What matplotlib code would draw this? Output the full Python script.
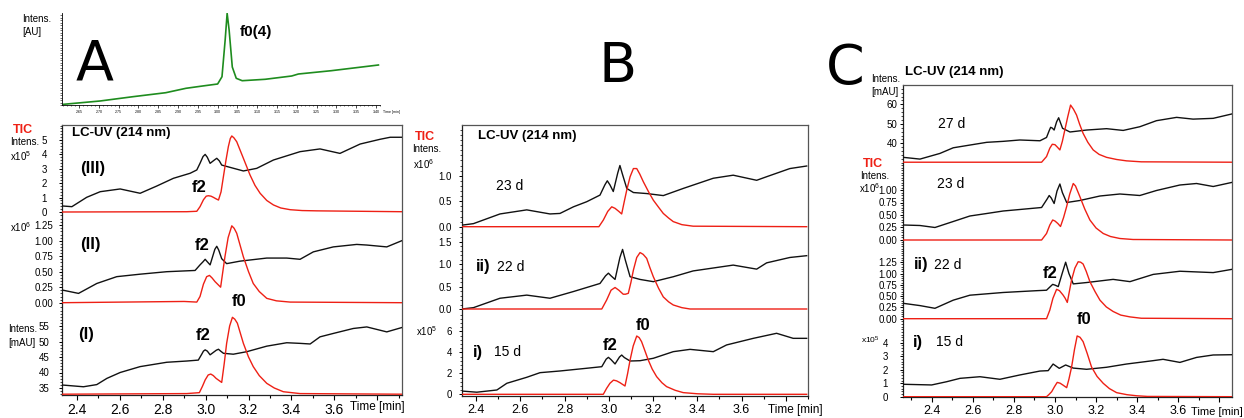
import matplotlib
matplotlib.use('Agg')
import matplotlib.pyplot as plt
from matplotlib.ticker import AutoMinorLocator, MultipleLocator

W, H = 1244, 418
BLACK = '#111111'
RED = '#ee2015'
GREEN = '#1e8c1e'

# shared time axis ticks
xticks = [2.4, 2.6, 2.8, 3.0, 3.2, 3.4, 3.6, 3.8]
xtick_labels = ['2.4', '2.6', '2.8', '3.0', '3.2', '3.4', '3.6', '']
inset_ticks = [2.65, 2.70, 2.75, 2.80, 2.85, 2.90, 2.95, 3.00, 3.05, 3.10, 3.15, 3.20, 3.25, 3.30, 3.35, 3.40]

# A, top inset (green, f0(4))
g_t = [2.611, 2.703, 2.786, 2.869, 2.92, 2.962, 3.0, 3.011, 3.019, 3.024, 3.029, 3.037, 3.047, 3.062, 3.12, 3.187, 3.204, 3.287, 3.406]
g_v = [0.7, 4, 8.3, 12.3, 16.7, 19, 21, 28.3, 65, 91.7, 75, 38, 26.7, 24.3, 25.7, 29, 31, 34.3, 40]

# A (III)  x10^5
a3_bt = [2.331, 2.377, 2.446, 2.509, 2.602, 2.695, 2.772, 2.85, 2.928, 2.959, 2.974, 2.988, 2.998, 3.008, 3.021, 3.04, 3.052, 3.064, 3.075, 3.114, 3.176, 3.238, 3.316, 3.44, 3.533, 3.626, 3.72, 3.813, 3.86, 3.914]
a3_b = [0.42, 0.37, 1.02, 1.41, 1.6, 1.3, 1.8, 2.34, 2.69, 2.92, 3.38, 3.85, 4.0, 3.8, 3.38, 3.6, 3.73, 3.55, 3.26, 3.1, 2.85, 3.03, 3.61, 4.19, 4.38, 4.07, 4.72, 5.05, 5.19, 5.19]
a3_rt = [2.331, 2.912, 2.959, 2.974, 2.99, 3.003, 3.013, 3.025, 3.036, 3.048, 3.06, 3.072, 3.083, 3.095, 3.106, 3.115, 3.122, 3.132, 3.145, 3.176, 3.207, 3.23, 3.254, 3.285, 3.316, 3.35, 3.394, 3.45, 3.518, 3.914]
a3_r = [0.0, 0.02, 0.05, 0.37, 0.85, 1.1, 1.13, 1.1, 1.02, 0.92, 0.83, 1.4, 2.46, 3.6, 4.54, 5.1, 5.28, 5.15, 4.88, 3.73, 2.57, 1.85, 1.3, 0.8, 0.49, 0.28, 0.16, 0.1, 0.08, 0.02]

# A (II)  x10^6
a2_bt = [2.331, 2.408, 2.493, 2.586, 2.695, 2.819, 2.951, 2.974, 2.988, 2.998, 3.008, 3.021, 3.043, 3.052, 3.061, 3.075, 3.098, 3.16, 3.285, 3.378, 3.44, 3.502, 3.595, 3.704, 3.751, 3.844, 3.914]
a2_b = [0.205, 0.15, 0.31, 0.42, 0.46, 0.5, 0.52, 0.61, 0.66, 0.7, 0.66, 0.61, 0.86, 0.91, 0.85, 0.71, 0.63, 0.67, 0.72, 0.72, 0.7, 0.82, 0.9, 0.94, 0.93, 0.9, 1.0]
a2_rt = [2.331, 2.9, 2.959, 2.974, 2.99, 3.005, 3.018, 3.03, 3.044, 3.07, 3.09, 3.105, 3.122, 3.133, 3.145, 3.176, 3.2, 3.222, 3.25, 3.285, 3.33, 3.394, 3.914]
a2_r = [0.0, 0.02, 0.01, 0.1, 0.3, 0.42, 0.44, 0.4, 0.34, 0.25, 0.74, 1.05, 1.24, 1.2, 1.12, 0.74, 0.5, 0.31, 0.18, 0.07, 0.03, 0.01, 0.0]

# A (I)  mAU
a1_bt = [2.331, 2.431, 2.493, 2.54, 2.602, 2.695, 2.819, 2.912, 2.966, 2.982, 2.99, 2.998, 3.008, 3.021, 3.05, 3.06, 3.07, 3.083, 3.129, 3.191, 3.285, 3.378, 3.44, 3.487, 3.533, 3.595, 3.688, 3.751, 3.844, 3.914]
a1_b = [35.97, 35.4, 36.1, 38.1, 40.0, 41.9, 43.3, 43.7, 44.0, 45.9, 46.9, 47.3, 46.9, 45.7, 47.2, 47.5, 46.9, 46.2, 45.9, 46.7, 48.5, 49.6, 49.4, 49.2, 51.5, 52.6, 54.2, 54.7, 53.1, 54.5]
a1_rt = [2.331, 2.912, 2.971, 2.985, 2.998, 3.012, 3.024, 3.036, 3.049, 3.075, 3.087, 3.098, 3.112, 3.125, 3.136, 3.148, 3.176, 3.2, 3.222, 3.25, 3.285, 3.32, 3.362, 3.44, 3.914]
a1_r = [33.0, 33.2, 33.5, 35.5, 37.6, 39.2, 39.5, 39.0, 38.1, 36.8, 43.0, 49.4, 55.0, 57.8, 57.2, 55.9, 49.4, 45.0, 41.9, 39.0, 36.5, 35.0, 33.8, 33.2, 33.0]

# B 23 d  x10^6
b3_bt = [2.335, 2.388, 2.508, 2.629, 2.734, 2.779, 2.84, 2.9, 2.96, 2.982, 2.993, 3.005, 3.02, 3.04, 3.05, 3.06, 3.081, 3.111, 3.171, 3.246, 3.336, 3.472, 3.562, 3.668, 3.713, 3.818, 3.894]
b3_b = [0.03, 0.06, 0.25, 0.33, 0.25, 0.26, 0.39, 0.49, 0.62, 0.82, 0.9, 0.82, 0.69, 1.05, 1.2, 1.05, 0.75, 0.67, 0.65, 0.61, 0.75, 0.95, 1.01, 0.91, 0.98, 1.14, 1.19]
b3_rt = [2.335, 2.955, 2.975, 2.995, 3.013, 3.028, 3.045, 3.058, 3.07, 3.081, 3.096, 3.111, 3.126, 3.14, 3.156, 3.18, 3.201, 3.225, 3.246, 3.27, 3.291, 3.33, 3.381, 3.894]
b3_r = [0.0, 0.0, 0.13, 0.3, 0.39, 0.36, 0.3, 0.25, 0.5, 0.72, 0.98, 1.14, 1.14, 1.03, 0.88, 0.68, 0.52, 0.38, 0.26, 0.17, 0.1, 0.04, 0.01, 0.0]

# B ii) 22 d
b2_bt = [2.335, 2.388, 2.508, 2.629, 2.734, 2.84, 2.96, 2.985, 2.998, 3.01, 3.028, 3.05, 3.062, 3.074, 3.096, 3.141, 3.201, 3.291, 3.381, 3.562, 3.668, 3.713, 3.818, 3.894]
b2_b = [0.0, 0.03, 0.24, 0.31, 0.24, 0.39, 0.57, 0.74, 0.8, 0.74, 0.66, 1.15, 1.33, 1.1, 0.72, 0.66, 0.61, 0.72, 0.85, 0.98, 0.89, 1.03, 1.15, 1.19]
b2_rt = [2.335, 2.968, 2.99, 3.01, 3.028, 3.045, 3.065, 3.075, 3.088, 3.1, 3.111, 3.126, 3.141, 3.155, 3.171, 3.185, 3.201, 3.225, 3.246, 3.27, 3.291, 3.33, 3.367, 3.894]
b2_r = [0.0, 0.0, 0.2, 0.42, 0.48, 0.42, 0.33, 0.33, 0.35, 0.6, 0.87, 1.15, 1.26, 1.22, 1.13, 0.93, 0.72, 0.46, 0.27, 0.16, 0.09, 0.03, 0.0, 0.0]

# B i) 15 d  x10^5
b1_bt = [2.335, 2.403, 2.494, 2.539, 2.629, 2.689, 2.779, 2.9, 2.968, 2.988, 2.998, 3.01, 3.028, 3.048, 3.058, 3.07, 3.096, 3.141, 3.201, 3.291, 3.367, 3.472, 3.532, 3.653, 3.758, 3.833, 3.894]
b1_b = [0.31, 0.2, 0.41, 1.05, 1.62, 2.06, 2.22, 2.48, 2.63, 3.35, 3.52, 3.3, 2.89, 3.55, 3.74, 3.5, 3.17, 3.2, 3.43, 4.06, 4.28, 4.06, 4.7, 5.33, 5.81, 5.33, 5.33]
b1_rt = [2.335, 2.975, 2.99, 3.005, 3.021, 3.035, 3.05, 3.073, 3.085, 3.096, 3.11, 3.126, 3.137, 3.148, 3.162, 3.178, 3.196, 3.216, 3.24, 3.261, 3.3, 3.336, 3.4, 3.472, 3.894]
b1_r = [0.0, 0.0, 0.57, 1.05, 1.35, 1.28, 1.11, 0.79, 2.0, 3.27, 4.6, 5.55, 5.4, 5.01, 4.2, 3.27, 2.4, 1.68, 1.1, 0.73, 0.38, 0.16, 0.05, 0.0, 0.0]

# C 27 d  mAU
c4_bt = [2.262, 2.343, 2.44, 2.505, 2.586, 2.668, 2.748, 2.829, 2.927, 2.959, 2.972, 2.979, 2.987, 2.996, 3.008, 3.018, 3.027, 3.037, 3.073, 3.154, 3.251, 3.332, 3.413, 3.494, 3.592, 3.672, 3.77, 3.859]
c4_b = [32.8, 31.9, 34.8, 37.7, 39.1, 40.5, 41.0, 41.7, 41.3, 43.0, 46.5, 48.2, 47.8, 46.8, 51.0, 53.1, 50.5, 47.7, 45.8, 46.8, 47.5, 46.6, 48.5, 51.6, 53.3, 52.4, 52.8, 55.0]
c4_rt = [2.262, 2.935, 2.959, 2.975, 2.987, 3.0, 3.012, 3.024, 3.036, 3.048, 3.062, 3.076, 3.09, 3.105, 3.12, 3.137, 3.16, 3.186, 3.215, 3.251, 3.3, 3.348, 3.42, 3.863]
c4_r = [30.3, 30.3, 33.2, 37.5, 39.5, 39.3, 38.0, 36.6, 41.0, 46.8, 53.5, 59.6, 57.5, 54.5, 49.8, 45.1, 40.5, 36.6, 34.3, 32.8, 31.7, 31.0, 30.5, 30.3]

# C 23 d  x10^6
c3_bt = [2.262, 2.343, 2.416, 2.505, 2.586, 2.668, 2.748, 2.829, 2.935, 2.962, 2.972, 2.982, 2.996, 3.01, 3.024, 3.036, 3.057, 3.121, 3.219, 3.316, 3.413, 3.494, 3.608, 3.689, 3.77, 3.859]
c3_b = [0.3, 0.29, 0.25, 0.37, 0.48, 0.53, 0.58, 0.61, 0.65, 0.82, 0.89, 0.84, 0.73, 0.98, 1.12, 0.95, 0.75, 0.79, 0.88, 0.92, 0.89, 0.99, 1.1, 1.13, 1.07, 1.15]
c3_rt = [2.262, 2.935, 2.959, 2.975, 2.989, 3.0, 3.014, 3.027, 3.042, 3.057, 3.072, 3.089, 3.1, 3.121, 3.145, 3.17, 3.2, 3.235, 3.27, 3.316, 3.38, 3.863]
c3_r = [0.0, 0.0, 0.13, 0.3, 0.4, 0.38, 0.33, 0.27, 0.45, 0.67, 0.92, 1.13, 1.08, 0.87, 0.62, 0.4, 0.24, 0.13, 0.07, 0.03, 0.01, 0.0]

# C ii) 22 d
c2_bt = [2.262, 2.343, 2.416, 2.505, 2.586, 2.748, 2.911, 2.959, 2.975, 2.989, 3.002, 3.016, 3.035, 3.052, 3.068, 3.089, 3.154, 3.283, 3.365, 3.478, 3.608, 3.77, 3.859]
c2_b = [0.34, 0.29, 0.23, 0.41, 0.52, 0.58, 0.62, 0.63, 0.7, 0.76, 0.74, 0.71, 1.0, 1.25, 1.0, 0.77, 0.8, 0.87, 0.82, 0.98, 1.05, 1.02, 1.09]
c2_rt = [2.262, 2.959, 2.975, 2.99, 3.008, 3.022, 3.04, 3.05, 3.06, 3.07, 3.081, 3.097, 3.113, 3.125, 3.137, 3.152, 3.17, 3.195, 3.219, 3.25, 3.283, 3.32, 3.365, 3.42, 3.863]
c2_r = [0.0, 0.0, 0.19, 0.45, 0.65, 0.62, 0.52, 0.45, 0.36, 0.6, 0.86, 1.12, 1.26, 1.25, 1.21, 1.05, 0.82, 0.6, 0.41, 0.26, 0.16, 0.08, 0.04, 0.01, 0.0]

# C i) 15 d  x10^5
c1_bt = [2.262, 2.4, 2.473, 2.538, 2.635, 2.732, 2.829, 2.927, 2.967, 2.991, 3.021, 3.052, 3.089, 3.154, 3.251, 3.348, 3.478, 3.526, 3.608, 3.689, 3.77, 3.859]
c1_b = [0.92, 0.87, 1.11, 1.36, 1.48, 1.29, 1.61, 1.9, 1.93, 2.42, 2.1, 2.35, 2.12, 2.03, 2.18, 2.42, 2.67, 2.77, 2.54, 2.91, 3.09, 3.11]
c1_rt = [2.262, 2.959, 2.97, 2.984, 2.998, 3.011, 3.025, 3.04, 3.057, 3.068, 3.081, 3.095, 3.108, 3.122, 3.137, 3.157, 3.178, 3.205, 3.235, 3.265, 3.3, 3.35, 3.397, 3.45, 3.863]
c1_r = [0.0, 0.0, 0.15, 0.37, 0.75, 1.06, 1.0, 0.85, 0.67, 1.3, 2.2, 3.5, 4.5, 4.4, 4.08, 3.2, 2.2, 1.5, 0.99, 0.6, 0.3, 0.15, 0.07, 0.02, 0.0]

plt.rcParams['font.family'] = ['Liberation Sans', 'DejaVu Sans']
plt.rcParams['mathtext.fontset'] = 'custom'
plt.rcParams['mathtext.rm'] = 'Liberation Sans'
plt.rcParams['mathtext.it'] = 'Liberation Sans'

fig = plt.figure(figsize=(W / 100, H / 100), dpi=100)


def box(x0, y0, x1, y1):
    # axes placed in pixel coordinates (top-left origin)
    return fig.add_axes([x0 / W, 1 - y1 / H, (x1 - x0) / W, (y1 - y0) / H])


def note(x, y, s, size=7, **kw):
    kw.setdefault('va', 'center')
    fig.text(x / W, 1 - y / H, s, fontsize=size, **kw)


def frame(px, xlim, labelsize):
    ax = box(*px)
    ax.set_xlim(xlim)
    ax.set_yticks([])
    ax.set_xticks(xticks, labels=xtick_labels)
    ax.xaxis.set_minor_locator(AutoMinorLocator(2))
    ax.tick_params(axis='x', which='major', length=3.5, width=0.8, labelsize=labelsize, pad=2.5)
    ax.tick_params(axis='x', which='minor', length=2, width=0.8)
    for side, s in ax.spines.items():
        s.set_linewidth(0.9)
        s.set_color('#222222' if side in ('left', 'bottom') else '#555555')
    return ax


def track(px, top, bot, ref, xlim, ticks, fmt, pad, ha='right'):
    v0, p0, k = ref
    ax = box(px[0], top, px[2], bot)
    ax.set_xlim(xlim)
    ax.set_ylim(v0 - (bot - p0) / k, v0 + (p0 - top) / k)
    ax.patch.set_visible(False)
    for s in ax.spines.values():
        s.set_visible(False)
    ax.set_xticks([])
    ax.set_yticks(ticks, labels=[fmt % t for t in ticks], ha=ha)
    ax.yaxis.set_minor_locator(AutoMinorLocator(5))
    ax.tick_params(axis='y', which='major', length=2.5, width=0.7, labelsize=7, pad=pad)
    ax.tick_params(axis='y', which='minor', length=1.3, width=0.5)
    return ax


def traces(ax, bt, b, rt, r):
    ax.plot(bt, b, color=BLACK, lw=1.0)
    ax.plot(rt, r, color=RED, lw=1.0)


# ---------------- panel A ----------------
ins = box(62, 13, 380, 105)
ins.plot(g_t, g_v, color=GREEN, lw=1.2)
ins.set_xlim(2.607, 3.41)
ins.set_ylim(0, 92)
ins.spines['top'].set_visible(False)
ins.spines['right'].set_visible(False)
ins.set_xticks(inset_ticks, labels=['%.2f' % t for t in inset_ticks])
ins.xaxis.set_minor_locator(AutoMinorLocator(5))
ins.yaxis.set_major_locator(MultipleLocator(10))
ins.yaxis.set_minor_locator(AutoMinorLocator(4))
ins.tick_params(axis='x', which='major', labelsize=2.6, length=2, width=0.5, pad=1.5)
ins.tick_params(axis='x', which='minor', length=1, width=0.4)
ins.tick_params(axis='y', which='both', labelleft=False, length=1.5, width=0.4)
for s in ins.spines.values():
    s.set_linewidth(0.6)
note(383, 112, 'Time [min]', 2.6)
note(22, 19, 'Intens.', 7)
note(22, 32, '[AU]', 7)
note(76, 80, 'A', 40, va='baseline', family='DejaVu Sans')
note(240, 32, 'f0(4)', 11, weight='bold')

pa = (62, 125, 402, 395)
xa = (2.331, 3.915)
frame(pa, xa, 10)
ax = track(pa, 125, 217, (0, 212, 14.4), xa, [0, 1, 2, 3, 4, 5], '%d', 10.4, 'center')
traces(ax, a3_bt, a3_b, a3_rt, a3_r)
ax = track(pa, 217, 305, (0, 302.7, 62), xa, [0, 0.25, 0.5, 0.75, 1.0, 1.25], '%.2f', 10.4, 'center')
traces(ax, a2_bt, a2_b, a2_rt, a2_r)
ax = track(pa, 305, 395, (35, 388, 3.1), xa, [35, 40, 45, 50, 55], '%d', 10.4, 'center')
traces(ax, a1_bt, a1_b, a1_rt, a1_r)

note(13, 130, 'TIC', 9, weight='bold', color=RED)
note(10, 142, 'Intens.', 7)
note(10, 156, r'x10$^{5}$', 7)
note(10, 227, r'x10$^{6}$', 7)
note(8, 329, 'Intens.', 7)
note(8, 343, '[mAU]', 7)
note(72, 133, 'LC-UV (214 nm)', 9.5, weight='bold')
note(80, 168, '(III)', 12, weight='bold')
note(80, 245, '(II)', 12, weight='bold')
note(78, 335, '(I)', 12, weight='bold')
note(192, 188, 'f2', 12, weight='bold')
note(195, 246, 'f2', 12, weight='bold')
note(196, 335, 'f2', 12, weight='bold')
note(232, 302, 'f0', 12, weight='bold')
note(350, 407, 'Time [min]', 8.5)

# ---------------- panel B ----------------
pb = (461.7, 125, 808, 395.7)
xb = (2.335, 3.9)
frame(pb, xb, 9)
ax = track(pb, 125, 230, (0, 226.7, 51), xb, [0.0, 0.5, 1.0], '%.1f', 4.5)
traces(ax, b3_bt, b3_b, b3_rt, b3_r)
ax = track(pb, 230, 312, (0, 309, 44.8), xb, [0.0, 0.5, 1.0, 1.5], '%.1f', 4.5)
traces(ax, b2_bt, b2_b, b2_rt, b2_r)
ax = track(pb, 312, 395.7, (0, 394.3, 10.5), xb, [0, 2, 4, 6], '%d', 4.5)
traces(ax, b1_bt, b1_b, b1_rt, b1_r)

note(598, 82, 'B', 40, va='baseline', family='DejaVu Sans')
note(415, 137, 'TIC', 9, weight='bold', color=RED)
note(412, 149, 'Intens.', 7)
note(413, 164, r'x10$^{6}$', 7)
note(416, 331, r'x10$^{5}$', 7)
note(478, 136, 'LC-UV (214 nm)', 9.5, weight='bold')
note(496, 186, '23 d', 10)
note(476, 267, 'ii)', 12, weight='bold')
note(497, 267, '22 d', 10)
note(473, 352, 'i)', 12, weight='bold')
note(494, 352, '15 d', 10)
note(603, 345, 'f2', 12, weight='bold')
note(636, 325, 'f0', 12, weight='bold')
note(768, 410, 'Time [min]', 8.5)

# ---------------- panel C ----------------
pc = (903.3, 85, 1232.3, 396.7)
xc = (2.262, 3.863)
frame(pc, xc, 9)
ax = track(pc, 85, 163.5, (40, 143.3, 1.95), xc, [40, 50, 60], '%d', 1.8)
traces(ax, c4_bt, c4_b, c4_rt, c4_r)
ax = track(pc, 163.5, 241, (0, 240, 50), xc, [0, 0.25, 0.5, 0.75, 1.0], '%.2f', 1.8)
traces(ax, c3_bt, c3_b, c3_rt, c3_r)
ax = track(pc, 241, 320, (0, 318.7, 45.2), xc, [0, 0.25, 0.5, 0.75, 1.0, 1.25], '%.2f', 1.8)
traces(ax, c2_bt, c2_b, c2_rt, c2_r)
ax = track(pc, 320, 396.7, (0, 396.7, 13.5), xc, [0, 1, 2, 3, 4], '%d', 8.5)
traces(ax, c1_bt, c1_b, c1_rt, c1_r)

note(826, 84, 'C', 40, va='baseline', family='DejaVu Sans')
note(905, 72, 'LC-UV (214 nm)', 9.5, weight='bold')
note(871, 79, 'Intens.', 7)
note(871, 92, '[mAU]', 7)
note(938, 124, '27 d', 10)
note(863, 164, 'TIC', 9, weight='bold', color=RED)
note(860, 176, 'Intens.', 7)
note(859, 188, r'x10$^{6}$', 7)
note(937, 184, '23 d', 10)
note(914, 265, 'ii)', 12, weight='bold')
note(934, 265, '22 d', 10)
note(1043, 274, 'f2', 12, weight='bold')
note(1077, 319, 'f0', 12, weight='bold')
note(861, 340, r'x10$^{5}$', 6)
note(913, 342, 'i)', 12, weight='bold')
note(936, 342, '15 d', 10)
note(1191, 412, 'Time [min]', 8)

fig.savefig('out.png', dpi=100)
